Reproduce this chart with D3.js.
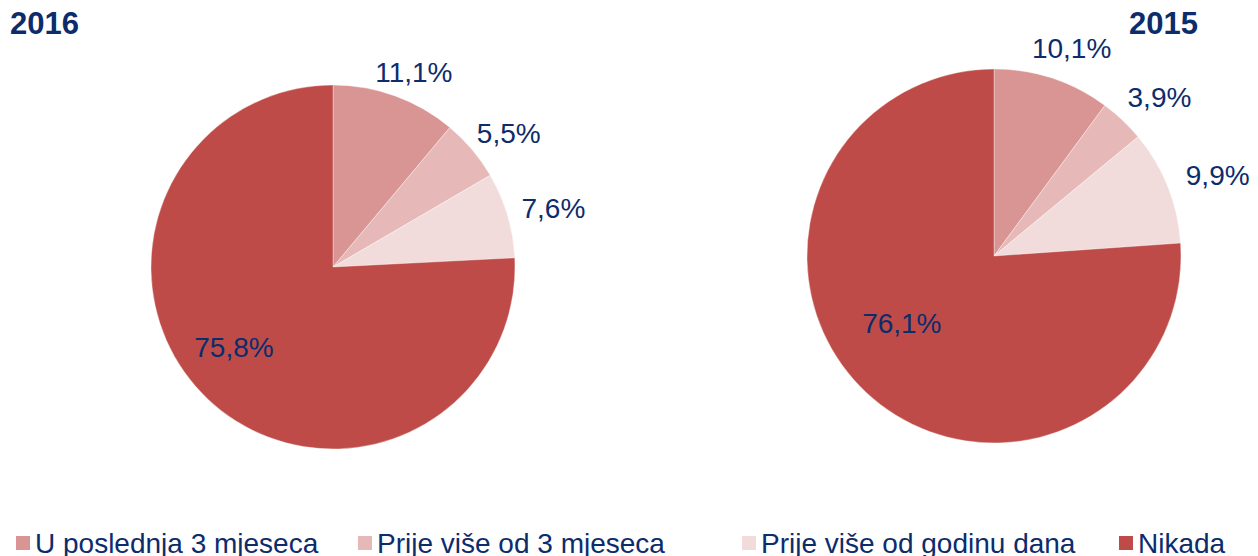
<!DOCTYPE html>
<html><head><meta charset="utf-8">
<script src="https://cdn.jsdelivr.net/npm/d3@7"></script>
<style>
html,body{margin:0;padding:0;background:#fff;}
svg{display:block;font-family:"Liberation Sans",Arial,sans-serif;}
</style></head>
<body>
<svg id="c" width="1258" height="556"></svg>
<script>
const categories = ["U poslednja 3 mjeseca","Prije više od 3 mjeseca","Prije više od godinu dana","Nikada"];
const values2016 = [11.1, 5.5, 7.6, 75.8];
const values2015 = [10.1, 3.9, 9.9, 76.1];
const labels2016 = ["11,1%","5,5%","7,6%","75,8%"];
const labels2015 = ["10,1%","3,9%","9,9%","76,1%"];
const colors = ["#D99594","#E6B9B8","#F2DCDB","#BE4B48"];
const textColor = "#0C2C6C";

const svg = d3.select("#c");
const color = d3.scaleOrdinal().domain(categories).range(colors);
const pie = d3.pie().sort(null).value(d => d.v);

function drawPie(cfg){
  const data = pie(categories.map((c,i)=>({c, v: cfg.values[i], l: cfg.labels[i]})));
  const g = svg.append("g").attr("transform",`translate(${cfg.cx},${cfg.cy})`);
  const arc = d3.arc().innerRadius(0).outerRadius(cfg.r);
  g.selectAll("path").data(data).join("path")
    .attr("d", arc)
    .attr("fill", d => color(d.data.c))
    .attr("stroke","#ffffff").attr("stroke-width",0.6).attr("stroke-opacity",0.6);
  const capH = 20;
  g.selectAll("text.lbl").data(data).join("text")
    .attr("class","lbl")
    .attr("text-anchor","middle")
    .attr("fill",textColor)
    .style("font-size","28px")
    .text(d => d.data.l)
    .each(function(d,i){
      const w = this.getComputedTextLength();
      let a = (d.startAngle + d.endAngle)/2;
      let x, y;
      if (i === 3) {
        a += cfg.inShift;
        const R = cfg.r*cfg.inF;
        x = R*Math.sin(a); y = -R*Math.cos(a);
      } else {
        const R = cfg.r + cfg.d;
        x = R*Math.sin(a) + Math.sin(a)*w/2;
        y = -R*Math.cos(a) - Math.cos(a)*capH/2;
      }
      d3.select(this).attr("x", x).attr("y", y + capH/2);
    });
  svg.append("text").attr("x",cfg.tx).attr("y",cfg.ty)
    .attr("text-anchor",cfg.tAnchor)
    .attr("fill",textColor).style("font-size","31px").style("font-weight","bold")
    .text(cfg.title);
}

drawPie({values: values2016, labels: labels2016, cx:333, cy:267, r:182, d:16, inF:0.70, inShift:0.13, title:"2016", tx:10, ty:34, tAnchor:"start"});
drawPie({values: values2015, labels: labels2015, cx:994, cy:256, r:187, d:22, inF:0.61, inShift:0.19, title:"2015", tx:1198, ty:34, tAnchor:"end"});

// legend
const legendX = [16, 358, 742, 1119];
const lg = svg.append("g");
categories.forEach((c,i)=>{
  lg.append("rect").attr("x",legendX[i]).attr("y",536).attr("width",14).attr("height",14).attr("fill",color(c));
  lg.append("text").attr("x",legendX[i]+19).attr("y",553).attr("fill",textColor)
    .style("font-size","28px").text(c);
});
</script>
</body></html>
